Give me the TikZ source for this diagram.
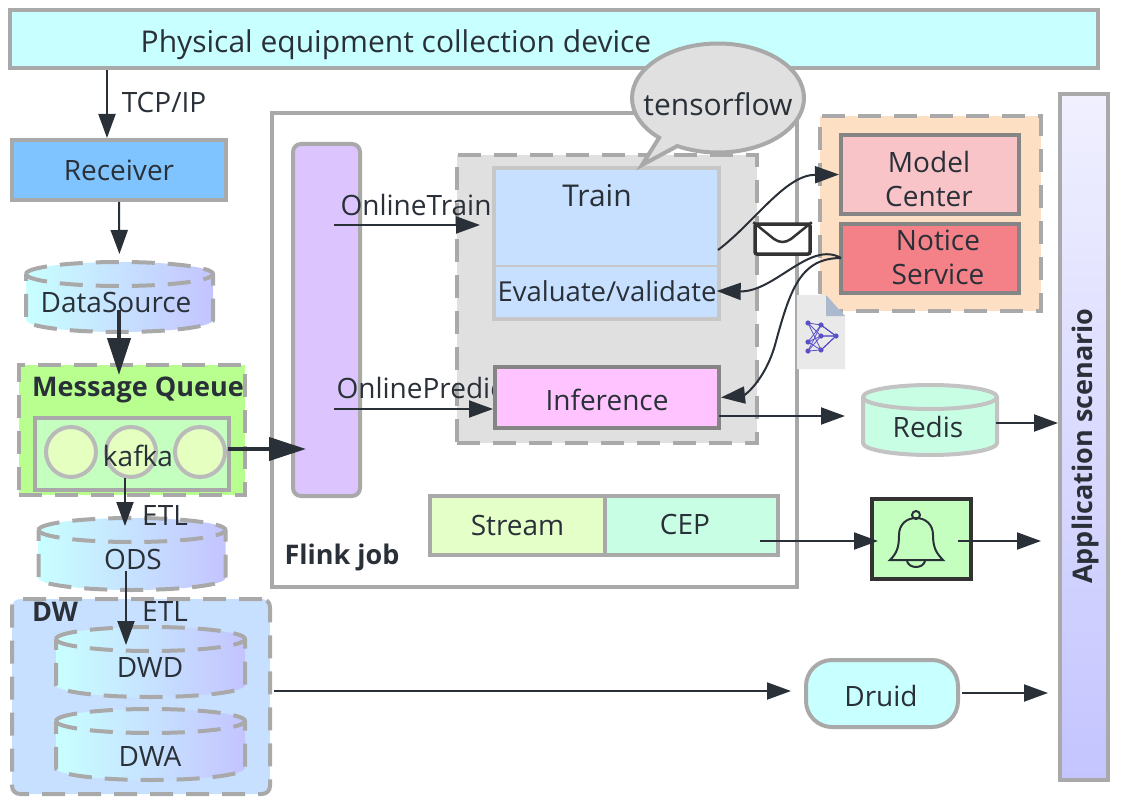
\documentclass[tikz,border=0pt]{standalone}
\usepackage{fontspec}
\setmainfont{Open Sans}
\usetikzlibrary{arrows.meta,calc,shapes.geometric,shapes.callouts}
\definecolor{lineGray}{HTML}{A9A9A9}
\definecolor{darkGray}{HTML}{858585}
\definecolor{inkDark}{HTML}{2A3038}
\definecolor{barCyan}{HTML}{C8FFFF}
\definecolor{recvBlue}{HTML}{80C4FF}
\definecolor{dbLeft}{HTML}{C8FFFF}
\definecolor{dbRight}{HTML}{C4C4FF}
\definecolor{mqGreen}{HTML}{B8FF90}
\definecolor{kafkaGreen}{HTML}{C4FFC0}
\definecolor{ballGreen}{HTML}{E4FFC0}
\definecolor{flinkPurple}{HTML}{DCC4FF}
\definecolor{panelGray}{HTML}{E0E0E0}
\definecolor{trainBlue}{HTML}{C8E0FF}
\definecolor{inferPink}{HTML}{FFC4FF}
\definecolor{mintGreen}{HTML}{C8FFE4}
\definecolor{streamGreen}{HTML}{E4FFC8}
\definecolor{orangeBg}{HTML}{FDE0C4}
\definecolor{modelPink}{HTML}{F8C4C8}
\definecolor{noticeRed}{HTML}{F48088}
\definecolor{netBlue}{HTML}{5A50C8}
\tikzset{
    txt/.style = {
        font=\fontsize{28}{34}\selectfont,
        text=inkDark,
        inner sep=0pt,
        align=center,
        },
    bigtxt/.style = {
        txt,
        font=\fontsize{30}{36}\selectfont,
        },
    boldtxt/.style = {
        txt,
        font=\fontsize{27}{32}\selectfont\bfseries,
        },
    box/.style = {
        draw=lineGray,
        line width=4pt,
        inner sep=0pt,
        txt,
        },
    darkbox/.style = {
        box,
        draw=darkGray,
        },
    dashbox/.style = {
        box,
        dash pattern=on 23pt off 13pt,
        },
    ball/.style = {
        circle,
        draw=lineGray!80,
        line width=4pt,
        fill=ballGreen,
        minimum size=50,
        },
    solidedge/.style = {
        draw=lineGray!70,
        line width=4pt,
        },
    dashedge/.style = {
        draw=lineGray,
        line width=4pt,
        dash pattern=on 23pt off 13pt,
        },
    solidbody/.style = {
        solidedge,
        fill=mintGreen,
        },
    dashbody/.style = {
        dashedge,
        left color=dbLeft,
        right color=dbRight,
        },
    flow/.style = {
        -{Triangle[length=24pt,width=17pt]},
        line width=2pt,
        draw=inkDark,
        },
    thickflow/.style = {
        -{Triangle[length=37pt,width=23pt]},
        line width=4pt,
        draw=inkDark,
        },
}
% name, x, y, width, height, kind of line
\newcommand{\dbnode}[6]{
    \node[minimum width=#4, minimum height=#5, inner sep=0pt, outer sep=0pt] (#1) at (#2,#3) {};
    \draw[#6body] ([yshift=-12pt]#1.north west) arc[start angle=180, end angle=0, x radius=#4/2*1pt, y radius=12pt]
        -- ([yshift=12pt]#1.south east) arc[start angle=0, end angle=-180, x radius=#4/2*1pt, y radius=12pt] -- cycle;
    \draw[#6edge] ([yshift=-12pt]#1.north west) arc[start angle=180, end angle=360, x radius=#4/2*1pt, y radius=12pt];
}
\begin{document}
\begin{tikzpicture}[x=1pt,y=-1pt]
    \useasboundingbox (0,0) rectangle (1124,805);

    \node[box, fill=barCyan, minimum width=1088, minimum height=58] (device) at (554,39) {};
    \node[bigtxt] (deviceText) at (396,45) {Physical equipment collection device};
    \node[box, fill=recvBlue, minimum width=214, minimum height=60] (receiver) at (119,170) {Receiver};
    \node[txt] (tcp) at (164,103) {TCP/IP};

    % left column
    \dbnode{dataSource}{119.5}{297}{187}{70}{dash}
    \node[txt] (dataSourceText) at (116,302) {DataSource};
    \node[dashbox, fill=mqGreen, minimum width=226, minimum height=130] (mq) at (132,430) {};
    \node[boldtxt] (mqText) at (138,390) {Message Queue};
    \node[box, fill=kafkaGreen, minimum width=194, minimum height=72] (kafka) at (132,454) {};
    \node[ball] (ball1) at (71,452) {};
    \node[ball] (ball2) at (131,452) {};
    \node[ball] (ball3) at (200,452) {};
    \node[txt] (kafkaText) at (138,456) {kafka};
    \dbnode{ods}{132}{554}{187}{72}{dash}
    \node[txt] (odsText) at (133,559) {ODS};
    \node[txt] (etl1) at (165,516) {ETL};
    \node[dashbox, rounded corners=8pt, fill=trainBlue, minimum width=258, minimum height=195] (dw) at (141,696.5) {};
    \node[boldtxt] (dwText) at (55,612) {DW};
    \node[txt] (etl2) at (165,612) {ETL};
    \dbnode{dwd}{150.5}{662}{189}{70}{dash}
    \node[txt] (dwdText) at (150,667) {DWD};
    \dbnode{dwa}{150.5}{744.5}{189}{71}{dash}
    \node[txt] (dwaText) at (150,756) {DWA};

    % flink job
    \node[box, fill=white, minimum width=525, minimum height=474] (flink) at (534.5,350) {};
    \node[boldtxt] (flinkText) at (342,557) {Flink job};
    \node[box, rounded corners=8pt, fill=flinkPurple, minimum width=67, minimum height=352] (source) at (326.5,320) {};
    \node[dashbox, fill=panelGray, minimum width=300, minimum height=288] (panel) at (607,299) {};
    \node[txt] (onlineTrain) at (416,205) {OnlineTrain};
    \node[txt] (onlinePredict) at (425,388) {OnlinePredict};
    \node[box, draw=lineGray!65, fill=trainBlue, minimum width=225, minimum height=151] (train) at (606.5,243.5) {};
    \draw[lineGray!65, line width=2pt] (train.west |- 0,266) coordinate (splitL) -- (splitL -| train.east);
    \node[bigtxt] (trainText) at (597,196) {Train};
    \node[txt, font=\fontsize{27.5}{34}\selectfont] (evaluate) at (607,291) {Evaluate/validate};
    \node[darkbox, fill=inferPink, minimum width=224, minimum height=61] (inference) at (607,397.5) {};
    \node[txt] (inferenceText) at (607,400) {Inference};
    \node[box, fill=streamGreen, minimum width=175, minimum height=59] (stream) at (517.5,525.5) {Stream};
    \node[box, fill=mintGreen, minimum width=173, minimum height=59] (cep) at (691.5,525.5) {};
    \node[txt] (cepText) at (685,524) {CEP};

    % right column
    \node[dashbox, fill=orangeBg, minimum width=221, minimum height=195] (service) at (930.5,213.5) {};
    \node[darkbox, fill=modelPink, minimum width=178, minimum height=79] (model) at (930,174.5) {};
    \node[txt] (modelText) at (929,179) {Model\\Center};
    \node[darkbox, fill=noticeRed, minimum width=178, minimum height=69] (notice) at (930,258.5) {};
    \node[txt] (noticeText) at (938,257) {Notice\\Service};
    \dbnode{redis}{930}{420}{134}{70}{solid}
    \node[txt] (redisText) at (928,427) {Redis};
    \node[draw=black!80, line width=4pt, fill=kafkaGreen, minimum width=99, minimum height=80] (alarm) at (921.5,539) {};
    \node[box, rounded corners=26pt, fill=barCyan, minimum width=152, minimum height=67] (druid) at (882,693.5) {};
    \node[txt] (druidText) at (881,696) {Druid};
    \node[box, top color=dbRight!25, bottom color=dbRight, minimum width=48, minimum height=686] (app) at (1084,437) {};
    \node[boldtxt, rotate=90] (appText) at (1085,446) {Application scenario};

    % bell
    \draw[inkDark, line width=2pt, fill=kafkaGreen] (890,560) .. controls (897,553) and (899,547) .. (899,535) .. controls (899,524) and (907,518) .. (916,518) .. controls (925,518) and (933,524) .. (933,535) .. controls (933,547) and (936,553) .. (943,560) -- cycle;
    \draw[inkDark, line width=2pt] (916,515) circle (4);
    \draw[inkDark, line width=2pt] (907,561) .. controls (909,569) and (923,569) .. (925,561);

    % model file
    \path[fill=panelGray!70!white] (797,295) -- (826,295) -- (845,316) -- (845,369) -- (797,369) -- cycle;
    \path[fill=trainBlue!60!gray] (826,295) -- (845,316) -- (826,316) -- cycle;
    \foreach \a/\b in {808/323, 808/342, 808/351} {
        \foreach \c/\d in {821/325, 821/336, 821/350} {
            \draw[netBlue, line width=0.8pt] (\a,\b) -- (\c,\d) -- (836,336);
        }
        \fill[netBlue] (\a,\b) circle (2.6);
    }
    \foreach \c/\d in {821/325, 821/336, 821/350, 836/336} {
        \fill[netBlue] (\c,\d) circle (2.6);
    }

    % free ends
    \coordinate (tcpIn) at (107,70);
    \coordinate (dsOut) at (119,310);
    \coordinate (kafkaOut) at (228,449);
    \coordinate (kafkaDown) at (125,478);
    \coordinate (odsDown) at (126,571);
    \coordinate (trainIn) at (334,225);
    \coordinate (predictIn) at (334,409);
    \coordinate (trainOut) at (718,250);
    \coordinate (inferOut) at (719,416);
    \coordinate (redisOut) at (996,423);
    \coordinate (cepOut) at (760,541);
    \coordinate (alarmOut) at (958,541);
    \coordinate (dwOut) at (274,691);
    \coordinate (druidOut) at (962,693);
    \coordinate (noticeIn) at (841,258);

    \draw[flow] (tcpIn) -- (tcpIn |- receiver.north);
    \draw[flow, shorten >=8pt] (receiver.south) -- (dataSource.north);
    \draw[thickflow, shorten >=-12pt] (dsOut) -- (dsOut |- mq.north);
    \draw[thickflow, shorten >=-15pt] (kafkaOut) -- (kafkaOut -| source.west);
    \draw[flow, shorten >=-8pt] (kafkaDown) -- (kafkaDown |- ods.north);
    \draw[flow, shorten >=-18pt] (odsDown) -- (odsDown |- dwd.north);
    \draw[flow, shorten >=12pt] (trainIn) -- (trainIn -| train.west);
    \draw[flow] (predictIn) -- (predictIn -| inference.west);
    \draw[flow, shorten >=18pt] (inferOut) -- (inferOut -| redis.west);
    \draw[flow] (redisOut) -- (redisOut -| app.west);
    \draw[flow, shorten >=-8pt] (cepOut) -- (cepOut -| alarm.west);
    \draw[flow, shorten >=17pt] (alarmOut) -- (alarmOut -| app.west);
    \draw[flow, shorten >=13pt] (dwOut) -- (dwOut -| druid.west);
    \draw[flow, shorten >=10pt] (druidOut) -- (druidOut -| app.west);
    \node[draw=black!80, line width=3.5pt, rounded corners=2pt, fill=white, minimum width=55, minimum height=30] (mail) at (782.5,239) {};
    \draw[black!80, line width=2.5pt] (mail.north west) -- (774,239) .. controls (780,243) and (785,243) .. (791,239) -- (mail.north east);
    \draw[flow] (trainOut) .. controls (755,222) and (785,175) .. (model.west);
    \draw[flow] (noticeIn) .. controls (810,240) and (775,292) .. (evaluate.east);
    \draw[flow] (noticeIn) .. controls (800,258) and (790,290) .. (775,345) .. controls (765,380) and (745,395) .. (inference.east);

    \node[ellipse callout, callout absolute pointer={(642,165)}, draw=lineGray, line width=4pt, fill=panelGray, minimum width=172, minimum height=109, inner sep=0pt] (tf) at (718,98) {};
    \node[bigtxt] (tfText) at (718,104) {tensorflow};
\end{tikzpicture}
\end{document}
